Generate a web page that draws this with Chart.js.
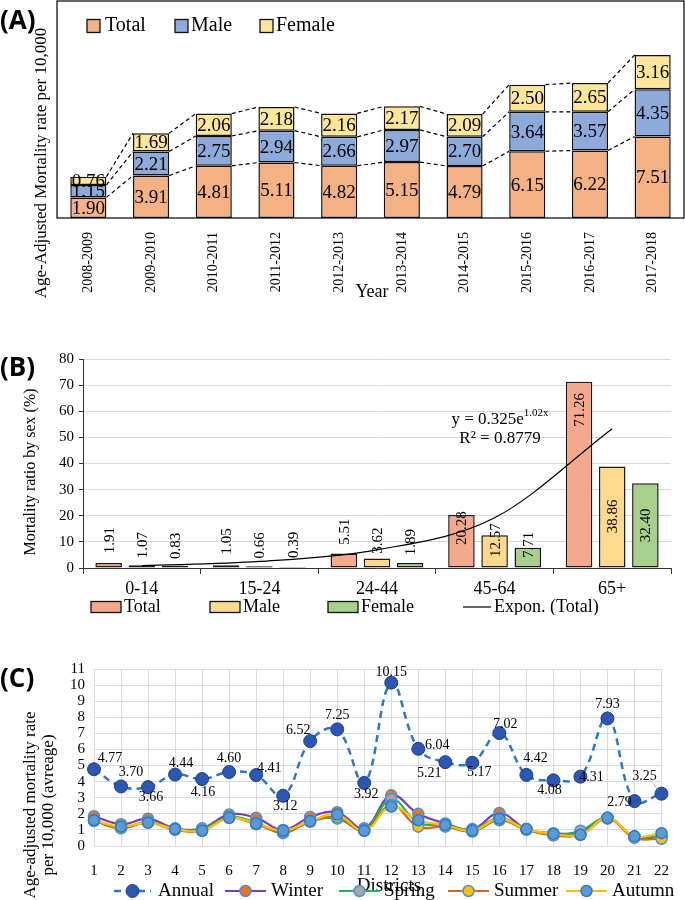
<!DOCTYPE html>
<html>
<head>
<meta charset="utf-8">
<script src="https://cdn.jsdelivr.net/npm/chart.js@4.4.1/dist/chart.umd.min.js"></script>
<style>
  html, body { margin: 0; padding: 0; background: #fff; }
  #wrap { position: relative; width: 685px; height: 900px; overflow: hidden; }
  #wrap canvas { position: absolute; left: 0; }
  .tag { position: absolute; left: 0; font: bold 26px "Open Sans", "Liberation Sans", sans-serif; line-height: 26px; }
</style>
</head>
<body>
<div id="wrap">
  <canvas id="chartA" width="685" height="300" style="top:0"></canvas>
  <canvas id="chartB" width="685" height="315" style="top:300px"></canvas>
  <canvas id="chartC" width="685" height="285" style="top:615px"></canvas>
  <div class="tag" style="top:6px">(A)</div>
  <div class="tag" style="top:353px">(B)</div>
  <div class="tag" style="top:664px">(C)</div>
</div>
<script>
/* ---------- data ---------- */

// (A) age-adjusted mortality per year
const yearLabels = ['2008-2009', '2009-2010', '2010-2011', '2011-2012', '2012-2013',
                    '2013-2014', '2014-2015', '2015-2016', '2016-2017', '2017-2018'];
const totalRates  = [1.90, 3.91, 4.81, 5.11, 4.82, 5.15, 4.79, 6.15, 6.22, 7.51];
const maleRates   = [1.15, 2.21, 2.75, 2.94, 2.66, 2.97, 2.70, 3.64, 3.57, 4.35];
const femaleRates = [0.76, 1.69, 2.06, 2.18, 2.16, 2.17, 2.09, 2.50, 2.65, 3.16];

// (B) mortality ratio by age group
const ageGroups   = ['0-14', '15-24', '24-44', '45-64', '65+'];
const totalRatio  = [1.91, 1.05, 5.51, 20.28, 71.26];
const maleRatio   = [1.07, 0.66, 3.62, 12.57, 38.86];
const femaleRatio = [0.83, 0.39, 1.89, 7.71, 32.40];
const exponTotal  = [0.90, 2.50, 6.94, 19.2, 53.3];   // trendline read at group centres
const ratioTicks  = [0, 10, 20, 30, 40, 50, 60, 70, 80];

// (C) mortality by district
const districts = ['1', '2', '3', '4', '5', '6', '7', '8', '9', '10', '11',
                   '12', '13', '14', '15', '16', '17', '18', '19', '20', '21', '22'];
const annual = [4.77, 3.70, 3.66, 4.44, 4.16, 4.60, 4.41, 3.12, 6.52, 7.25, 3.92,
                10.15, 6.04, 5.21, 5.17, 7.02, 4.42, 4.08, 4.31, 7.93, 2.79, 3.25];
const winter = [1.85, 1.35, 1.70, 1.10, 1.10, 1.95, 1.75, 1.00, 1.80, 2.10, 1.10,
                3.15, 2.00, 1.40, 1.05, 2.05, 1.05, 0.80, 0.85, 1.75, 0.55, 0.50];
const spring = [1.60, 1.15, 1.50, 1.05, 1.05, 1.80, 1.45, 0.80, 1.55, 1.70, 1.00,
                2.90, 1.45, 1.30, 1.00, 1.75, 1.05, 0.70, 0.95, 1.75, 0.60, 0.60];
const summer = [1.55, 1.10, 1.45, 1.00, 0.95, 1.75, 1.35, 0.85, 1.50, 1.80, 0.95,
                2.55, 1.20, 1.20, 0.90, 1.60, 1.00, 0.65, 0.70, 1.70, 0.50, 0.45];
const autumn = [1.60, 1.20, 1.45, 1.05, 0.95, 1.75, 1.40, 0.95, 1.55, 1.95, 0.95,
                2.45, 1.60, 1.30, 0.95, 1.70, 1.05, 0.75, 0.70, 1.75, 0.60, 0.80];
const rateTicks = [0, 1, 2, 3, 4, 5, 6, 7, 8, 9, 10, 11];

/* ---------- label placement (px, style only) ---------- */
const ratioLabelShift = [
    [-23, -24, -22, 13, 28],
    [-20, -21, -18, 5, 50],
    [-20, -22, -21, -3, 42]
];
const annualLabelDx = [16, 10, 3, 6, 1, 0, 13, 2, -12, 0, 2, 0, 19, -16, 7, 6, 9, -4, 11, 0, -15, -17];
const annualLabelDy = [-11, -14, 10, -11, 13, -14, -7, 11, -11, -14, 11, -10, -3, 11, 10, -9, -17, 10, 1, -14, 1, -17];

const SERIF = '"Liberation Serif", "Times New Roman", serif';
Chart.defaults.font.family = SERIF;
Chart.defaults.color = '#000';
Chart.defaults.animation = false;
Chart.defaults.plugins.legend.display = false;
Chart.defaults.plugins.tooltip.enabled = false;

/* ---------- shared plugins ---------- */

// free text: axis titles, equation etc.
const annotate = {
    id: 'annotate',
    afterDraw(chart, args, opts) {
        const ctx = chart.ctx;
        (opts.items || []).forEach(t => {
            ctx.save();
            ctx.font = t.font;
            ctx.fillStyle = '#000';
            ctx.textAlign = t.align || 'center';
            ctx.textBaseline = 'middle';
            ctx.translate(t.x, t.y);
            if (t.rotate) ctx.rotate(t.rotate);
            ctx.fillText(t.text, 0, 0);
            ctx.restore();
        });
    }
};

// hand placed legend, built from the datasets
const customLegend = {
    id: 'customLegend',
    afterDraw(chart, args, opts) {
        if (!opts.items) return;
        const ctx = chart.ctx;
        const y = opts.y;
        ctx.save();
        ctx.font = opts.font;
        ctx.textBaseline = 'middle';
        ctx.textAlign = 'left';
        opts.items.forEach(it => {
            const ds = chart.data.datasets[it.index];
            if (it.kind === 'box') {
                ctx.fillStyle = ds.backgroundColor;
                ctx.fillRect(it.x, y - it.h / 2, it.w, it.h);
                ctx.lineWidth = 1.3;
                ctx.strokeStyle = '#111';
                ctx.strokeRect(it.x, y - it.h / 2, it.w, it.h);
            } else {
                ctx.strokeStyle = ds.borderColor;
                ctx.lineWidth = ds.borderWidth;
                ctx.setLineDash(ds.borderDash || []);
                ctx.beginPath();
                ctx.moveTo(it.x, y);
                ctx.lineTo(it.x + it.w, y);
                ctx.stroke();
                ctx.setLineDash([]);
                if (it.marker) {
                    ctx.beginPath();
                    ctx.arc(it.x + it.w / 2, y, ds.pointRadius, 0, Math.PI * 2);
                    ctx.fillStyle = ds.pointBackgroundColor;
                    ctx.fill();
                    ctx.lineWidth = ds.pointBorderWidth;
                    ctx.strokeStyle = ds.pointBorderColor;
                    ctx.stroke();
                }
            }
            ctx.fillStyle = '#000';
            ctx.fillText(ds.label, it.x + it.w + it.gap, y + (opts.textDy || 0));
        });
        ctx.restore();
    }
};

/* ---------- (A) stacked bars ---------- */

const stackDecor = {
    id: 'stackDecor',
    afterDatasetsDraw(chart) {
        const ctx = chart.ctx;
        const area = chart.chartArea;
        ctx.save();
        // series lines between the stacks
        ctx.setLineDash([4, 3]);
        ctx.lineWidth = 1.2;
        ctx.strokeStyle = '#000';
        chart.data.datasets.forEach((ds, d) => {
            const bars = chart.getDatasetMeta(d).data;
            for (let i = 0; i < bars.length - 1; i++) {
                const a = bars[i], b = bars[i + 1];
                ctx.beginPath();
                ctx.moveTo(a.x + a.width / 2, a.y);
                ctx.lineTo(b.x - b.width / 2, b.y);
                ctx.stroke();
            }
        });
        ctx.setLineDash([]);
        // values in the middle of each segment
        ctx.font = '19px ' + SERIF;
        ctx.fillStyle = '#000';
        ctx.textAlign = 'center';
        ctx.textBaseline = 'middle';
        chart.data.datasets.forEach((ds, d) => {
            chart.getDatasetMeta(d).data.forEach((el, i) => {
                ctx.fillText(ds.data[i].toFixed(2), el.x, (el.y + el.base) / 2 + 1);
            });
        });
        // plot frame
        ctx.lineWidth = 1.2;
        ctx.strokeRect(area.left, area.top, area.right - area.left, area.bottom - area.top);
        ctx.restore();
    }
};

const barStyleA = { borderColor: '#111', borderWidth: 1.5, borderSkipped: false,
                    barPercentage: 0.9, categoryPercentage: 0.64 };

new Chart(document.getElementById('chartA'), {
    type: 'bar',
    data: {
        labels: yearLabels,
        datasets: [
            { label: 'Total', data: totalRates, backgroundColor: '#f4b183', ...barStyleA },
            { label: 'Male', data: maleRates, backgroundColor: '#8eaadb', ...barStyleA },
            { label: 'Female', data: femaleRates, backgroundColor: '#ffe699', ...barStyleA }
        ]
    },
    options: {
        responsive: false,
        devicePixelRatio: 1,
        layout: { padding: { top: 1, right: 1, left: 0, bottom: 0 } },
        scales: {
            x: {
                stacked: true,
                grid: { display: false },
                border: { display: false },
                ticks: { minRotation: 90, maxRotation: 90, autoSkip: false, padding: 6,
                         font: { size: 14 }, color: '#000' },
                afterFit: s => { s.height = 82; }
            },
            y: {
                stacked: true,
                min: 0, max: 20,
                grid: { display: false },
                border: { display: false },
                ticks: { display: false },
                afterFit: s => { s.width = 57; }
            }
        },
        plugins: {
            annotate: { items: [
                { text: 'Age-Adjusted Mortality rate per 10,000', x: 42, y: 163,
                  font: '17px ' + SERIF, rotate: -Math.PI / 2 },
                { text: 'Year', x: 372, y: 292, font: '18px ' + SERIF }
            ] },
            customLegend: {
                y: 26, font: '20px ' + SERIF,
                items: [
                    { index: 0, kind: 'box', x: 87, w: 13, h: 13, gap: 5 },
                    { index: 1, kind: 'box', x: 175, w: 13, h: 13, gap: 3 },
                    { index: 2, kind: 'box', x: 260, w: 13, h: 13, gap: 3 }
                ]
            }
        }
    },
    plugins: [stackDecor, annotate, customLegend]
});

/* ---------- (B) grouped bars + trendline ---------- */

const ratioLabels = {
    id: 'ratioLabels',
    afterDatasetsDraw(chart) {
        const ctx = chart.ctx;
        ctx.save();
        ctx.font = '15px ' + SERIF;
        ctx.fillStyle = '#000';
        ctx.textAlign = 'center';
        ctx.textBaseline = 'middle';
        ratioLabelShift.forEach((shift, d) => {
            const ds = chart.data.datasets[d];
            chart.getDatasetMeta(d).data.forEach((el, i) => {
                ctx.save();
                ctx.translate(el.x + 1, el.y + shift[i]);
                ctx.rotate(-Math.PI / 2);
                ctx.fillText(ds.data[i].toFixed(2), 0, 0);
                ctx.restore();
            });
        });
        // trendline equation
        const cx = 500, cy = 118;
        const main = 'y = 0.325e', sup = '1.02x';
        ctx.font = '17px ' + SERIF;
        const w1 = ctx.measureText(main).width;
        ctx.font = '11px ' + SERIF;
        const w2 = ctx.measureText(sup).width;
        const x0 = cx - (w1 + w2) / 2;
        ctx.textAlign = 'left';
        ctx.textBaseline = 'alphabetic';
        ctx.font = '17px ' + SERIF;
        ctx.fillText(main, x0, cy + 6);
        ctx.font = '11px ' + SERIF;
        ctx.fillText(sup, x0 + w1, cy - 2);
        ctx.font = '17px ' + SERIF;
        ctx.textAlign = 'center';
        ctx.fillText('R\u00B2 = 0.8779', cx, cy + 25);
        ctx.restore();
    }
};

const barStyleB = { borderColor: '#1a1a1a', borderWidth: 1.5, borderSkipped: false,
                    barPercentage: 0.8, categoryPercentage: 0.846, order: 1 };

new Chart(document.getElementById('chartB'), {
    type: 'bar',
    data: {
        labels: ageGroups,
        datasets: [
            { label: 'Total', data: totalRatio, backgroundColor: '#f5a98c', ...barStyleB },
            { label: 'Male', data: maleRatio, backgroundColor: '#ffd98e', ...barStyleB },
            { label: 'Female', data: femaleRatio, backgroundColor: '#a9d18e', ...barStyleB },
            { label: 'Expon. (Total)', type: 'line', data: exponTotal, order: 0,
              borderColor: '#000', borderWidth: 1.2, pointRadius: 0,
              cubicInterpolationMode: 'monotone', fill: false }
        ]
    },
    options: {
        responsive: false,
        devicePixelRatio: 1,
        layout: { padding: { top: 59, right: 14, left: 0, bottom: 0 } },
        scales: {
            x: {
                grid: { display: true, drawOnChartArea: false, tickLength: 6, color: '#333' },
                border: { color: '#333', width: 1 },
                ticks: { font: { size: 18 }, padding: 4, color: '#000' },
                afterFit: s => { s.height = 47; }
            },
            y: {
                min: 0, max: 80,
                afterBuildTicks: s => { s.ticks = ratioTicks.map(v => ({ value: v })); },
                grid: { color: '#d9d9d9', tickColor: '#333', tickLength: 4 },
                border: { color: '#333', width: 1 },
                ticks: { font: { size: 15 }, padding: 5, color: '#000', autoSkip: false },
                afterFit: s => { s.width = 83; }
            }
        },
        plugins: {
            annotate: { items: [
                { text: 'Mortality ratio by sex (%)', x: 31, y: 172,
                  font: '16px ' + SERIF, rotate: -Math.PI / 2 }
            ] },
            customLegend: {
                y: 307, font: '18px ' + SERIF,
                items: [
                    { index: 0, kind: 'box', x: 91, w: 30, h: 11, gap: 3 },
                    { index: 1, kind: 'box', x: 210, w: 30, h: 11, gap: 3 },
                    { index: 2, kind: 'box', x: 328, w: 30, h: 11, gap: 3 },
                    { index: 3, kind: 'line', x: 463, w: 28, gap: 3 }
                ]
            }
        }
    },
    plugins: [ratioLabels, annotate, customLegend]
});

/* ---------- (C) district lines ---------- */

const annualLabels = {
    id: 'annualLabels',
    afterDatasetsDraw(chart) {
        const ctx = chart.ctx;
        const ds = chart.data.datasets[0];
        ctx.save();
        ctx.font = '14px ' + SERIF;
        ctx.fillStyle = '#000';
        ctx.textAlign = 'center';
        ctx.textBaseline = 'middle';
        chart.getDatasetMeta(0).data.forEach((el, i) => {
            const lx = el.x + annualLabelDx[i], ly = el.y + annualLabelDy[i];
            ctx.fillText(ds.data[i].toFixed(2), lx, ly);
            if (i === ds.data.length - 1) {
                ctx.strokeStyle = '#a9b6c8';
                ctx.lineWidth = 1;
                ctx.beginPath();
                ctx.moveTo(lx + 8, ly + 6);
                ctx.lineTo(el.x - 4, el.y - 4);
                ctx.stroke();
            }
        });
        ctx.restore();
    }
};

const seasonStyle = { borderWidth: 2.2, tension: 0.4, pointRadius: 5.5, pointBorderWidth: 1.5,
                      pointBorderColor: '#4a90d9', clip: false, fill: false };
const gridC = '#d6dce6';

new Chart(document.getElementById('chartC'), {
    type: 'line',
    data: {
        labels: districts,
        datasets: [
            { label: 'Annual', data: annual, borderColor: '#2b78c6', borderWidth: 2.5,
              borderDash: [7, 5], tension: 0.4, pointRadius: 6.5, pointBorderWidth: 1,
              pointBackgroundColor: '#2c56b2', pointBorderColor: '#1e3f8c', clip: false,
              fill: false, order: 0 },
            { label: 'Winter', data: winter, borderColor: '#7a3fb0',
              pointBackgroundColor: '#e8742a', ...seasonStyle, order: 4 },
            { label: 'Spring', data: spring, borderColor: '#1fb35a',
              pointBackgroundColor: '#a6a6a6', ...seasonStyle, order: 3 },
            { label: 'Summer', data: summer, borderColor: '#d2691e',
              pointBackgroundColor: '#ffc000', ...seasonStyle, order: 2 },
            { label: 'Autumn', data: autumn, borderColor: '#ffc000',
              pointBackgroundColor: '#5b9bd5', ...seasonStyle, pointBorderColor: '#2f7ac4', order: 1 }
        ]
    },
    options: {
        responsive: false,
        devicePixelRatio: 1,
        layout: { padding: { top: 54, right: 14, left: 0, bottom: 0 } },
        scales: {
            x: {
                grid: { color: gridC, drawTicks: false },
                border: { color: gridC },
                ticks: { font: { size: 15 }, padding: 16, color: '#000', autoSkip: false, maxRotation: 0 },
                afterFit: s => { s.height = 54; }
            },
            y: {
                min: 0, max: 11,
                afterBuildTicks: s => { s.ticks = rateTicks.map(v => ({ value: v })); },
                ticks: { font: { size: 15 }, padding: 9, color: '#000', autoSkip: false },
                grid: { color: gridC, drawTicks: false },
                border: { color: gridC },
                afterFit: s => { s.width = 94; }
            }
        },
        plugins: {
            annotate: { items: [
                { text: 'Age-adjusted mortality rate', x: 31, y: 190, font: '17px ' + SERIF, rotate: -Math.PI / 2 },
                { text: 'per 10,000 (avreage)', x: 49, y: 190, font: '17px ' + SERIF, rotate: -Math.PI / 2 },
                { text: 'Districts', x: 389, y: 271, font: '19px ' + SERIF }
            ] },
            customLegend: {
                y: 276, font: '19px ' + SERIF,
                items: [
                    { index: 0, kind: 'line', marker: true, x: 114, w: 37, gap: 7 },
                    { index: 1, kind: 'line', marker: true, x: 225, w: 41, gap: 5 },
                    { index: 2, kind: 'line', marker: true, x: 339, w: 41, gap: 4 },
                    { index: 3, kind: 'line', marker: true, x: 448, w: 41, gap: 5 },
                    { index: 4, kind: 'line', marker: true, x: 566, w: 41, gap: 5 }
                ]
            }
        }
    },
    plugins: [annualLabels, annotate, customLegend]
});
</script>
</body>
</html>
